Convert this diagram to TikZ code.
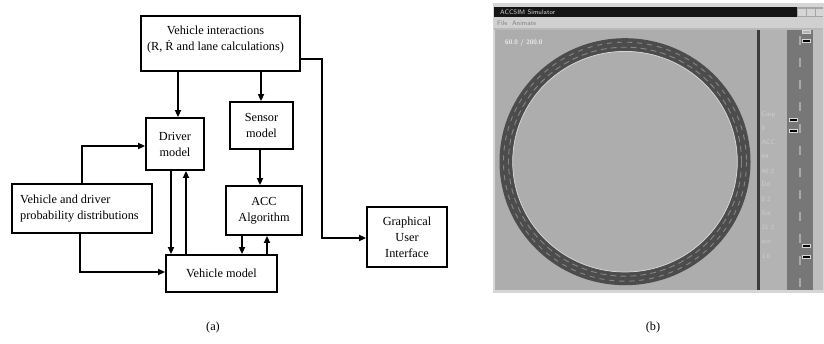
\documentclass[tikz,border=0pt]{standalone}
\usepackage{fontspec}
\setmainfont{Liberation Serif}
\usetikzlibrary{arrows.meta}
\newcommand{\diafont}{\fontsize{12.3}{16}\selectfont}
\newcommand{\scrfont}{\fontsize{6.5}{7}\selectfont\sffamily}
\definecolor{frameC}{HTML}{D6D6D6}
\definecolor{titleC}{HTML}{151515}
\definecolor{menuC}{HTML}{D0D0D0}
\definecolor{mainC}{HTML}{ADADAD}
\definecolor{sepC}{HTML}{3C3C3C}
\definecolor{infoC}{HTML}{B3B3B3}
\definecolor{roadC}{HTML}{777777}
\definecolor{rstripC}{HTML}{BEBEBE}
\definecolor{ringC}{HTML}{4C4C4C}
\definecolor{laneC}{HTML}{858585}
\definecolor{labC}{HTML}{CFCFCF}
\definecolor{roadlaneC}{HTML}{A8A8A8}
\begin{document}
\begin{tikzpicture}[x=1pt,y=-1pt,
  box/.style={draw, line width=1.8pt, inner sep=0pt, align=center, font=\diafont},
  lbl/.style={inner sep=0pt, align=center, font=\diafont},
  arr/.style={line width=1.6pt, -{Triangle[length=7pt,width=6pt]}},
  scrtxt/.style={inner sep=0pt, anchor=west, font=\scrfont},
  car/.style={fill=black, draw=frameC, line width=0.8pt, minimum width=8pt, minimum height=3pt, inner sep=0pt}]
\useasboundingbox (0,0) rectangle (824,343);

% ---------------- panel (a) ----------------
\node[box, minimum width=159pt, minimum height=55pt] (vi) at (220.5,43.5) {};
\node[lbl] (vitxt) at (215.5,40) {Vehicle interactions\\(R, \.{R} and lane calculations)};
\node[box, minimum width=58pt, minimum height=52pt] (drv) at (175,144) {Driver\\model};
\node[box, minimum width=63pt, minimum height=47pt] (sen) at (261.5,125.5) {Sensor\\model};
\node[box, minimum width=76pt, minimum height=49pt] (acc) at (264,210.5) {ACC\\Algorithm};
\node[box, minimum width=140pt, minimum height=49pt] (vdp) at (82,208.5) {};
\node[lbl, align=left, anchor=west] (vdptxt) at (20,208.5) {Vehicle and driver\\probability distributions};
\node[box, minimum width=111pt, minimum height=37pt] (vm) at (221.5,273.5) {Vehicle model};
\node[box, minimum width=80pt, minimum height=60pt] (gui) at (407,237) {Graphical\\User\\Interface};

\coordinate (xa) at (178,0);
\coordinate (xb) at (261,0);
\coordinate (xc) at (260,0);
\coordinate (xd) at (171,0);
\coordinate (xe) at (186,0);
\coordinate (xf) at (242,0);
\coordinate (xg) at (267,0);
\coordinate (xh) at (82,0);
\coordinate (xi) at (80,0);
\coordinate (ga) at (0,59);
\coordinate (gb) at (322,59);
\coordinate (gc) at (322,238);
\coordinate (ha) at (0,146);
\coordinate (hb) at (0,272);

\draw[arr] (vi.south -| xa) -- (drv.north -| xa);
\draw[arr] (vi.south -| xb) -- (sen.north -| xb);
\draw[arr] (sen.south -| xc) -- (acc.north -| xc);
\draw[arr] (drv.south -| xd) -- (vm.north -| xd);
\draw[arr] (vm.north -| xe) -- (drv.south -| xe);
\draw[arr] (acc.south -| xf) -- (vm.north -| xf);
\draw[arr] (vm.north -| xg) -- (acc.south -| xg);
\draw[arr] (vdp.north -| xh) -- (xh |- ha) -- (drv.west |- ha);
\draw[arr] (vdp.south -| xi) -- (xi |- hb) -- (vm.west |- hb);
\draw[arr] ([xshift=-2pt]vi.east |- ga) -- (gb) -- (gc) -- (gui.west |- gc);

\node[lbl] (capa) at (213,328) {(a)};

% ---------------- panel (b) ----------------
\fill[frameC] (492.5,3) rectangle (823.5,292.5);
\fill[titleC] (493.5,7.3) rectangle (796.7,17.3);
\fill[menuC] (493.5,17.3) rectangle (823,28);
\fill[gray!70] (796.7,7.3) rectangle (823,17.3);
\fill[frameC] (798,8.5) rectangle (806,16);
\fill[frameC] (807,8.5) rectangle (815,16);
\fill[frameC] (816,8.5) rectangle (822.5,16);
\fill[gray!55] (493.5,28) rectangle (823,29.5);
\fill[mainC] (494.5,29.5) rectangle (756.7,290);
\fill[sepC] (756.7,29.5) rectangle (759.5,290);
\fill[infoC] (759.5,29.5) rectangle (787.3,290);
\fill[roadC] (787.3,29.5) rectangle (812.7,290);
\fill[rstripC] (812.7,29.5) rectangle (823,290);

\node[scrtxt, text=white!85!black] (ttl) at (500,12.3) {ACCSIM Simulator};
\node[scrtxt, text=gray] (menu) at (497,23) {File\ \ Animate};
\node[scrtxt, text=white!92!black, font=\scrfont\bfseries] (ratio) at (505,42.7) {60.0 / 200.0};

% track ring
\draw[ringC, line width=13pt] (625,161.7) ellipse [x radius=119, y radius=117];
\draw[laneC, line width=0.9pt, dash pattern=on 6pt off 4pt] (625,161.7) ellipse [x radius=116.5, y radius=114.5];
\draw[laneC, line width=0.9pt, dash pattern=on 5pt off 5pt] (625,161.7) ellipse [x radius=121.5, y radius=119.5];
\draw[white!70!gray, line width=0.7pt] (625,161.7) ellipse [x radius=112.3, y radius=110.3];

% info labels
\node[scrtxt, text=labC] (l1) at (761.5,115) {Cmp};
\node[scrtxt, text=labC] (l2) at (761.5,128.3) {0};
\node[scrtxt, text=labC] (l3) at (761.5,142.7) {ACC};
\node[scrtxt, text=labC] (l4) at (761.5,156.7) {64};
\node[scrtxt, text=labC] (l5) at (761.5,171.7) {46.2};
\node[scrtxt, text=labC] (l6) at (761.5,184.3) {Dd};
\node[scrtxt, text=labC] (l7) at (761.5,199.3) {0.2};
\node[scrtxt, text=labC] (l8) at (761.5,213.3) {Sol};
\node[scrtxt, text=labC] (l9) at (761.5,227.7) {21.3};
\node[scrtxt, text=labC] (l10) at (761.5,241.7) {acc};
\node[scrtxt, text=labC] (l11) at (761.5,256) {1.0};

% road
\draw[roadlaneC, line width=1.5pt, dash pattern=on 9pt off 13pt] (800,36) -- (800,290);
\node[car, fill=gray!60] (c0) at (806.7,31.5) {};
\node[car] (c1) at (806.7,40.7) {};
\node[car] (c2) at (793.3,120) {};
\node[car] (c3) at (793.3,131) {};
\node[car] (c4) at (806.7,245.7) {};
\node[car] (c5) at (806.7,256.7) {};

\node[lbl] (capb) at (653,328) {(b)};
\end{tikzpicture}
\end{document}
